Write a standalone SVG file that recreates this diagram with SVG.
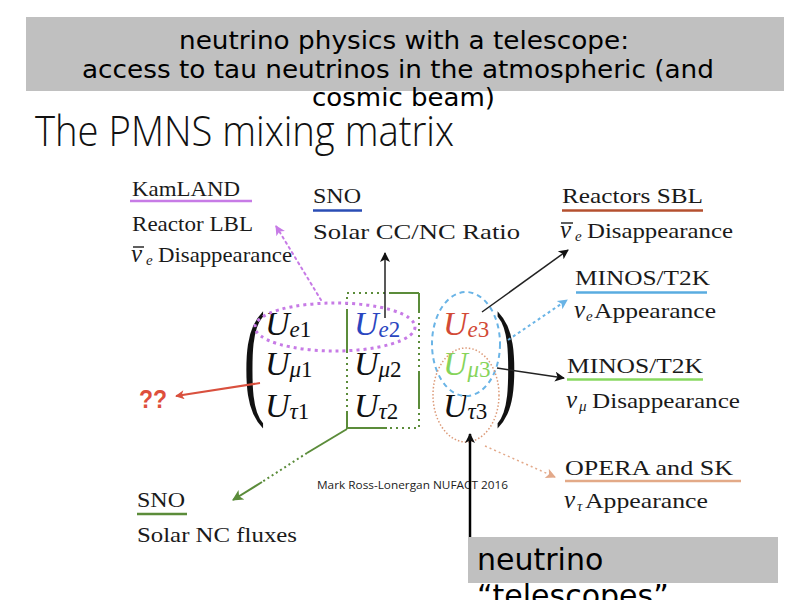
<svg xmlns="http://www.w3.org/2000/svg" width="799" height="600" viewBox="0 0 799 600">
<style>
.hdr{font-family:"DejaVu Sans",sans-serif;font-size:25px;fill:#000}
.big{font-family:"DejaVu Sans",sans-serif;font-size:30px;fill:#000}
.title{font-family:"Open Sans",sans-serif;font-weight:300;font-size:42px;fill:#111}
.lbl{font-family:"Liberation Serif",serif;font-size:22px;fill:#1a1a1a}
.nu{font-style:italic;font-size:25px}
.sub{font-size:15px;font-style:italic}
.mx{font-family:"Liberation Serif",serif;font-size:34px;font-style:italic;fill:#111}
.ms{font-size:23px}
.mn{font-size:23px;font-style:normal}
.paren{font-family:"Liberation Serif",serif;font-size:130px;fill:#111}
.credit{font-family:"Open Sans",sans-serif;font-size:11px;fill:#222}
.q{font-family:"Liberation Sans",sans-serif;font-weight:bold;font-size:26px;fill:#de4f3c}
.gbox{fill:#c0c0c0}
.ul{stroke-width:2.5;fill:none}
.bar{stroke:#1a1a1a;stroke-width:1.4}
</style>
<defs>
<marker id="ahK" viewBox="0 0 10 10" refX="9" refY="5" markerWidth="13" markerHeight="10" markerUnits="userSpaceOnUse" orient="auto"><path d="M0,0 L10,5 L0,10 L2.5,5 z" fill="#111"/></marker>
<marker id="ahP" viewBox="0 0 10 10" refX="9" refY="5" markerWidth="13" markerHeight="10" markerUnits="userSpaceOnUse" orient="auto"><path d="M0,0 L10,5 L0,10 L2.5,5 z" fill="#c77be6"/></marker>
<marker id="ahB" viewBox="0 0 10 10" refX="9" refY="5" markerWidth="13" markerHeight="10" markerUnits="userSpaceOnUse" orient="auto"><path d="M0,0 L10,5 L0,10 L2.5,5 z" fill="#6ab4e6"/></marker>
<marker id="ahO" viewBox="0 0 10 10" refX="9" refY="5" markerWidth="13" markerHeight="10" markerUnits="userSpaceOnUse" orient="auto"><path d="M0,0 L10,5 L0,10 L2.5,5 z" fill="#e3a98a"/></marker>
<marker id="ahR" viewBox="0 0 10 10" refX="9" refY="5" markerWidth="12" markerHeight="9" markerUnits="userSpaceOnUse" orient="auto"><path d="M0,0 L10,5 L0,10 L2.5,5 z" fill="#d9503e"/></marker>
<marker id="ahG" viewBox="0 0 10 10" refX="9" refY="5" markerWidth="14" markerHeight="11" markerUnits="userSpaceOnUse" orient="auto"><path d="M0,0 L10,5 L0,10 L2.5,5 z" fill="#5b8c3a"/></marker>
</defs>
<rect width="799" height="600" fill="#fff"/>

<g id="header">
<rect class="gbox" x="26" y="17" width="758" height="74"/>
<text class="hdr" x="179" y="49" textLength="450" lengthAdjust="spacingAndGlyphs">neutrino physics with a telescope:</text>
<text class="hdr" x="82" y="77.5" textLength="632" lengthAdjust="spacingAndGlyphs">access to tau neutrinos in the atmospheric (and</text>
<text class="hdr" x="312" y="106" textLength="183" lengthAdjust="spacingAndGlyphs">cosmic beam)</text>
</g>

<g id="title"><text class="title" x="35" y="146" textLength="419" lengthAdjust="spacingAndGlyphs">The PMNS mixing matrix</text></g>

<g id="kamland">
<text class="lbl" x="132" y="196" textLength="108" lengthAdjust="spacingAndGlyphs">KamLAND</text>
<line class="ul" x1="130" y1="201" x2="252" y2="201" stroke="#c77be6"/>
<text class="lbl" x="132" y="231" textLength="121" lengthAdjust="spacingAndGlyphs">Reactor LBL</text>
<text class="lbl" x="131" y="262"><tspan class="nu">ν</tspan><tspan class="sub" x="146" dy="3">e</tspan><tspan x="158" dy="-3" textLength="134" lengthAdjust="spacingAndGlyphs">Disappearance</tspan></text>
<line class="bar" x1="133" y1="247" x2="144" y2="247"/>
</g>

<g id="sno-top">
<text class="lbl" x="313" y="203" textLength="48" lengthAdjust="spacingAndGlyphs">SNO</text>
<line class="ul" x1="313" y1="210.5" x2="362" y2="210.5" stroke="#2a4db5"/>
<text class="lbl" x="313" y="239" textLength="207" lengthAdjust="spacingAndGlyphs">Solar CC/NC Ratio</text>
</g>

<g id="reactors-sbl">
<text class="lbl" x="562" y="203" textLength="141" lengthAdjust="spacingAndGlyphs">Reactors SBL</text>
<line class="ul" x1="562" y1="210.5" x2="703" y2="210.5" stroke="#b5502f"/>
<text class="lbl" x="560" y="238"><tspan class="nu">ν</tspan><tspan class="sub" x="575" dy="3">e</tspan><tspan x="587" dy="-3" textLength="146" lengthAdjust="spacingAndGlyphs">Disappearance</tspan></text>
<line class="bar" x1="561" y1="223" x2="573" y2="223"/>
</g>

<g id="minos-t2k-e">
<text class="lbl" x="575" y="285" textLength="135" lengthAdjust="spacingAndGlyphs">MINOS/T2K</text>
<line class="ul" x1="576" y1="292.5" x2="707" y2="292.5" stroke="#5aace0"/>
<text class="lbl" x="574" y="318"><tspan class="nu">ν</tspan><tspan class="sub" x="586" dy="3">e</tspan><tspan x="594" dy="-3" textLength="122" lengthAdjust="spacingAndGlyphs">Appearance</tspan></text>
</g>

<g id="minos-t2k-mu">
<text class="lbl" x="567" y="373" textLength="136" lengthAdjust="spacingAndGlyphs">MINOS/T2K</text>
<line class="ul" x1="567" y1="379.5" x2="703" y2="379.5" stroke="#88d860"/>
<text class="lbl" x="566" y="408"><tspan class="nu">ν</tspan><tspan class="sub" x="579" dy="3">μ</tspan><tspan x="592" dy="-3" textLength="148" lengthAdjust="spacingAndGlyphs">Disappearance</tspan></text>
</g>

<g id="opera-sk">
<text class="lbl" x="565" y="475" textLength="168" lengthAdjust="spacingAndGlyphs">OPERA and SK</text>
<line class="ul" x1="565" y1="481" x2="741" y2="481" stroke="#e3aa88"/>
<text class="lbl" x="564" y="508"><tspan class="nu">ν</tspan><tspan class="sub" x="577" dy="3">τ</tspan><tspan x="585" dy="-3" textLength="123" lengthAdjust="spacingAndGlyphs">Appearance</tspan></text>
</g>

<g id="sno-bottom">
<text class="lbl" x="137" y="507" textLength="48" lengthAdjust="spacingAndGlyphs">SNO</text>
<line class="ul" x1="137" y1="514" x2="187" y2="514" stroke="#5b8c3a"/>
<text class="lbl" x="137" y="542" textLength="160" lengthAdjust="spacingAndGlyphs">Solar NC fluxes</text>
</g>

<g id="unknown"><text class="q" x="139" y="408" textLength="28" lengthAdjust="spacingAndGlyphs">??</text></g>

<g id="credit"><text class="credit" x="317" y="489" textLength="191" lengthAdjust="spacingAndGlyphs">Mark Ross-Lonergan NUFACT 2016</text></g>

<g id="matrix">
<text class="paren" transform="translate(243.5,400.6) scale(0.5,1)">(</text>
<text class="paren" transform="translate(495.5,400.6) scale(0.5,1)">)</text>
<text class="mx" x="265" y="335">U<tspan class="ms" dy="2">e</tspan><tspan class="mn">1</tspan></text>
<text class="mx" x="265" y="375">U<tspan class="ms" dy="2">μ</tspan><tspan class="mn">1</tspan></text>
<text class="mx" x="265" y="417">U<tspan class="ms" dy="2">τ</tspan><tspan class="mn">1</tspan></text>
<text class="mx" x="354" y="335" style="fill:#2a46c0">U<tspan class="ms" dy="2">e</tspan><tspan class="mn">2</tspan></text>
<text class="mx" x="354" y="375">U<tspan class="ms" dy="2">μ</tspan><tspan class="mn">2</tspan></text>
<text class="mx" x="354" y="417">U<tspan class="ms" dy="2">τ</tspan><tspan class="mn">2</tspan></text>
<text class="mx" x="443" y="335" style="fill:#d24a36">U<tspan class="ms" dy="2">e</tspan><tspan class="mn">3</tspan></text>
<text class="mx" x="443" y="375" style="fill:#86d45a">U<tspan class="ms" dy="2">μ</tspan><tspan class="mn">3</tspan></text>
<text class="mx" x="443" y="417">U<tspan class="ms" dy="2">τ</tspan><tspan class="mn">3</tspan></text>
<rect x="347" y="293" width="72" height="135" fill="none" stroke="#5b8c3a" stroke-width="2" stroke-dasharray="2 4"/>
<path d="M347,310 V352 M347,413 V428 H387 M419,293 V313 M419,373 V408 M390,293 H419" fill="none" stroke="#5b8c3a" stroke-width="2"/>
<ellipse cx="335" cy="327" rx="80" ry="24" fill="none" stroke="#c77be6" stroke-width="3" stroke-dasharray="3 4"/>
<ellipse cx="466" cy="344" rx="34" ry="52" fill="none" stroke="#6ab4e6" stroke-width="2" stroke-dasharray="5 4"/>
<ellipse cx="466" cy="395" rx="33" ry="47" fill="none" stroke="#dc9a78" stroke-width="1.5" stroke-dasharray="1.5 2"/>
</g>

<g id="telescopes">
<rect class="gbox" x="468" y="537" width="310" height="46"/>
<text class="big" x="477" y="570">neutrino</text>
<text class="big" x="477" y="606">“telescopes”</text>
</g>

<g id="connectors" fill="none">
<line x1="321" y1="300" x2="276" y2="226" stroke="#c77be6" stroke-width="2" stroke-dasharray="2 4" stroke-linecap="round" marker-end="url(#ahP)"/>
<line x1="385" y1="318" x2="385" y2="253" stroke="#222" stroke-width="1.5" marker-end="url(#ahK)"/>
<line x1="482" y1="312" x2="568" y2="250" stroke="#222" stroke-width="1.5" marker-end="url(#ahK)"/>
<line x1="508" y1="340" x2="567" y2="300" stroke="#6ab4e6" stroke-width="2" stroke-dasharray="3 3" marker-end="url(#ahB)"/>
<line x1="497" y1="368" x2="564" y2="378" stroke="#222" stroke-width="1.5" marker-end="url(#ahK)"/>
<line x1="485" y1="446" x2="555" y2="477" stroke="#e3a98a" stroke-width="1.5" stroke-dasharray="2 3" marker-end="url(#ahO)"/>
<line x1="260" y1="383" x2="176" y2="396" stroke="#d9503e" stroke-width="2" marker-end="url(#ahR)"/>
<line x1="347" y1="429" x2="307" y2="453" stroke="#5b8c3a" stroke-width="2"/>
<line x1="307" y1="453" x2="262" y2="482" stroke="#5b8c3a" stroke-width="2" stroke-dasharray="2 3"/>
<line x1="262" y1="482" x2="233" y2="500" stroke="#5b8c3a" stroke-width="2" marker-end="url(#ahG)"/>
<line x1="470" y1="537" x2="470" y2="434" stroke="#000" stroke-width="2.5" marker-end="url(#ahK)"/>
</g>
</svg>
